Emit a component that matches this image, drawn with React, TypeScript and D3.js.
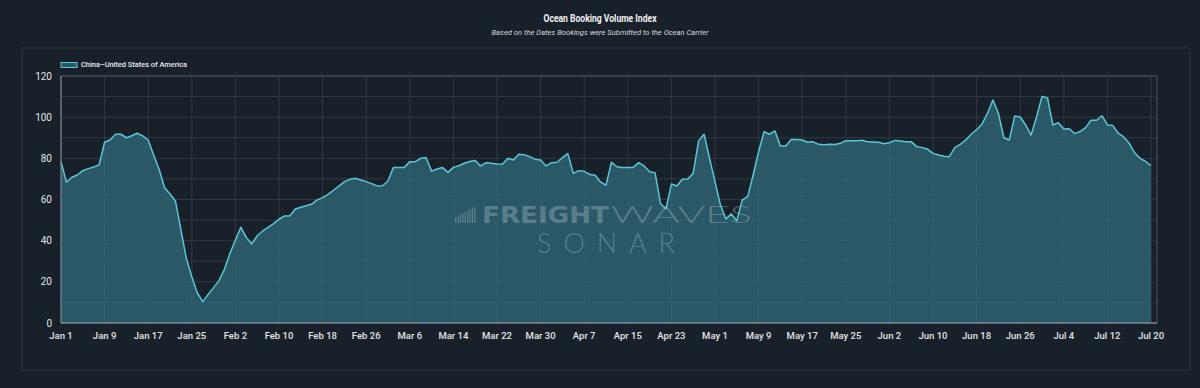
import * as d3 from "d3";

// daily index values, Jan 1 .. Jul 20
const startDate = new Date(Date.UTC(2023, 0, 1));
const values: number[] = [
  78.4, 68.4, 70.8, 71.9, 74, 75, 75.8, 76.8, 87.8, 88.9,
  91.7, 91.7, 90, 91, 92.2, 90.9, 88.9, 81.6, 74.7, 65.8,
  62.7, 59.3, 45.2, 31.4, 22.5, 14.7, 10.4, 13.9, 17.2, 20.6,
  26.2, 33.8, 40.3, 46.5, 41.6, 38.4, 42.4, 44.7, 46.5, 48.3,
  50.4, 52, 52.1, 55.4, 56.2, 57, 57.8, 59.8, 60.9, 62.5,
  64.5, 66.5, 68.7, 69.8, 70.3, 69.5, 68.7, 67.7, 66.6, 66.7,
  69, 75.6, 75.6, 75.6, 78.4, 78.4, 80, 80.3, 73.8, 74.8,
  75.5, 73.2, 75.6, 76.4, 77.6, 78.5, 78.9, 76.3, 77.9, 77.6,
  77.3, 77.1, 80, 79.2, 82, 81.8, 80.8, 79.5, 79.2, 76.3,
  77.9, 78.1, 80.3, 82.3, 72.7, 74, 73.7, 72.2, 71.8, 68.5,
  67, 78.1, 75.9, 75.5, 75.6, 75.6, 77.9, 76.3, 73.5, 73,
  58.1, 55.4, 67.5, 66.6, 69.8, 70, 72.7, 88.6, 91.7, 80,
  68.7, 57.3, 50.5, 53, 49.7, 59.8, 61.4, 71.9, 83.2, 93,
  91.7, 93.3, 86, 86, 89.2, 89.2, 88.9, 87.8, 88, 86.8,
  86.6, 86.8, 86.7, 87.3, 88.6, 88.6, 88.6, 88.8, 88, 87.9,
  87.8, 87.1, 87.6, 88.7, 88.4, 88.1, 88.1, 85.7, 85.2, 84.5,
  82.4, 81.6, 81, 80.8, 85.2, 86.8, 88.9, 91.7, 93.9, 96.7,
  101.9, 108.3, 101.9, 90, 88.9, 100.6, 100.1, 96.2, 91.3, 100.2,
  110, 109.5, 96.2, 97.3, 94.3, 94.4, 92, 93, 94.9, 98.5,
  98.5, 100.7, 96.2, 95.9, 92.2, 90.4, 87.3, 82.7, 80, 78.5,
  76.4,
];
const yTicks = [0, 20, 40, 60, 80, 100, 120];
const yMinor = [10, 30, 50, 70, 90, 110];
const seriesName = "China\u2013United States of America";
const title = "Ocean Booking Volume Index";
const subtitle = "Based on the Dates Bookings were Submitted to the Ocean Carrier";

const W = 1200;
const H = 388;
const bg = "#18202a";
const lineColor = "#5cc6d6";
const areaColor = "#2a5866";
const font = "Roboto, 'Noto Sans', sans-serif";

type Pt = { date: Date; value: number };
const data: Pt[] = values.map((v, i) => ({
  date: d3.utcDay.offset(startDate, i),
  value: v,
}));
const endDate = data[data.length - 1].date;

const App = () => {
  const left = 61;
  const right = 1151;
  const frameRight = 1157;
  const top = 76;
  const bottom = 323;

  const x = d3.scaleUtc().domain([startDate, endDate]).range([left, right]);
  const y = d3.scaleLinear().domain([0, 120]).range([bottom, top]);

  const xTicks = d3.range(0, values.length, 8).map((i) => d3.utcDay.offset(startDate, i));
  const fmt = d3.utcFormat("%b %-d");

  const area = d3
    .area<Pt>()
    .x((d) => x(d.date))
    .y0(y(0))
    .y1((d) => y(d.value));
  const line = d3
    .line<Pt>()
    .x((d) => x(d.date))
    .y((d) => y(d.value));

  // little bar-chart glyph of the watermark
  const bars = d3.range(9);
  const gridY = yMinor.concat(yTicks);

  return (
    <svg
      width={W}
      height={H}
      viewBox={`0 0 ${W} ${H}`}
      style={{ position: "absolute", left: 0, top: 0 }}
    >
      <rect width={W} height={H} fill={bg} />
      <rect x={22} y={48} width={1168} height={322} fill="none" stroke="#2c3540" />

      <text x={600} y={22} textAnchor="middle" fill="#f2f2f2" fontFamily={font} fontWeight={700}
        fontSize={10} textLength={113} lengthAdjust="spacingAndGlyphs">
        {title}
      </text>
      <text x={600} y={35} textAnchor="middle" fill="#d8d8d8" fontFamily={font} fontStyle="italic"
        fontSize={8} textLength={217} lengthAdjust="spacingAndGlyphs">
        {subtitle}
      </text>

      {/* legend */}
      <rect x={61} y={62.5} width={16} height={5} fill={areaColor} stroke={lineColor} strokeWidth={1} />
      <text x={81} y={67} fill="#eeeeee" fontFamily={font} fontWeight={500} fontSize={8}
        textLength={106} lengthAdjust="spacingAndGlyphs">
        {seriesName}
      </text>

      {/* grid */}
      {gridY.map((t) => (
        <line key={"gy" + t} x1={left} x2={frameRight} y1={y(t)} y2={y(t)} stroke="#2a333d" strokeWidth={1} />
      ))}
      {xTicks.map((d, i) => (
        <line key={"gx" + i} x1={x(d)} x2={x(d)} y1={top} y2={bottom} stroke="#2a333d" strokeWidth={1} />
      ))}

      <path d={area(data) ?? undefined} fill={areaColor} />
      {/* grid showing faintly through fill */}
      {gridY.map((t) => (
        <line key={"gfy" + t} x1={left} x2={right} y1={y(t)} y2={y(t)} stroke="#ffffff" strokeOpacity={0.035} />
      ))}
      {xTicks.map((d, i) => (
        <line key={"gfx" + i} x1={x(d)} x2={x(d)} y1={top} y2={bottom} stroke="#ffffff" strokeOpacity={0.035} />
      ))}

      {/* watermark */}
      <g fill="#a9bcc2" opacity={0.38}>
        {bars.map((b) => (
          <rect key={b} x={455 + b * 2.4} y={223 - (6 + b * 1.3)} width={1.3} height={6 + b * 1.3} />
        ))}
        <text x={482} y={223} fontFamily="'DejaVu Sans', sans-serif" fontWeight={700} fontSize={23}
          textLength={127} lengthAdjust="spacingAndGlyphs">
          FREIGHT
        </text>
        <text x={611} y={223} fontFamily="Lato, 'DejaVu Sans', sans-serif" fontWeight={300} fontSize={23}
          textLength={141} lengthAdjust="spacingAndGlyphs">
          WAVES
        </text>
        <text x={537} y={253} fontFamily="Lato, 'DejaVu Sans', sans-serif" fontWeight={300} fontSize={27}
          textLength={138} lengthAdjust="spacing">
          SONAR
        </text>
      </g>

      <path d={line(data) ?? undefined} fill="none" stroke={lineColor} strokeWidth={1.5} strokeLinejoin="round" />

      {/* frame */}
      <line x1={left} x2={frameRight} y1={top} y2={top} stroke="#4b535c" />
      <line x1={frameRight} x2={frameRight} y1={top} y2={bottom} stroke="#4b535c" />
      <line x1={left} x2={left} y1={top} y2={bottom} stroke="#8c939a" />
      <line x1={left} x2={frameRight} y1={bottom} y2={bottom} stroke="#a4abb2" />

      {yTicks.map((t) => (
        <text key={"yt" + t} x={52} y={y(t)} dy="0.35em" textAnchor="end" fill="#e4e4e4"
          fontFamily={font} fontSize={10}>
          {t}
        </text>
      ))}
      {xTicks.map((d, i) => (
        <text key={"xt" + i} x={x(d)} y={339} textAnchor="middle" fill="#e4e4e4"
          fontFamily={font} fontWeight={500} fontSize={9.5}>
          {fmt(d)}
        </text>
      ))}
    </svg>
  );
};

export default App;
